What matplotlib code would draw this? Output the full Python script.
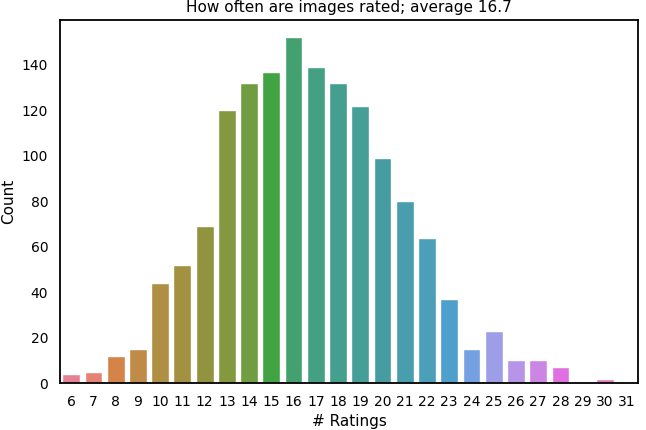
import numpy as np
import matplotlib
matplotlib.use("Agg")
import matplotlib.pyplot as plt
import seaborn as sns

ratings = list(range(6, 32))
counts = [4, 5, 12, 15, 44, 52, 69, 120, 132, 137, 152, 139, 132, 122,
          99, 80, 64, 37, 15, 23, 10, 10, 7, 1, 2, 1]

sns.set_style("white")
plt.rcParams['font.family'] = ['DejaVu Sans']

fig, ax = plt.subplots(figsize=(6.46, 4.3), dpi=100)
colors = sns.color_palette("husl", len(ratings))
labels = [str(r) for r in ratings]
sns.barplot(x=labels, y=counts, palette=colors, hue=labels,
            legend=False, ax=ax, saturation=0.75)

ax.set_title("How often are images rated; average 16.7", fontsize=11, color="black")
ax.set_xlabel("# Ratings", fontsize=11, color="black")
ax.set_ylabel("Count", fontsize=11, color="black")
ax.tick_params(labelsize=10, labelcolor="black", length=0, pad=8.5)
for s in ax.spines.values():
    s.set_color("black")
    s.set_linewidth(1.3)

plt.subplots_adjust(left=0.093, right=0.988, bottom=0.109, top=0.953)
plt.savefig("out.png", dpi=100)
